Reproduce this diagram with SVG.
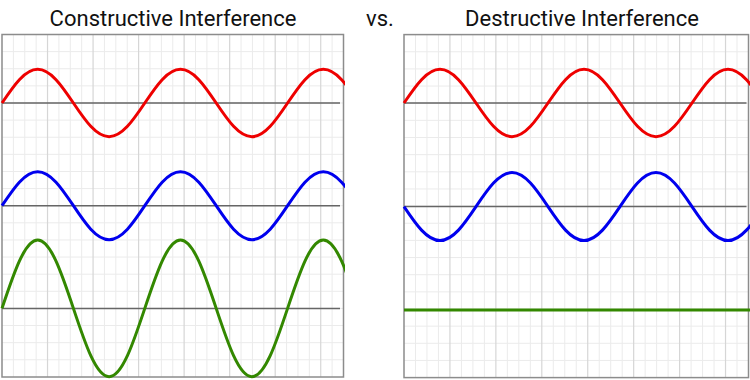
<svg xmlns="http://www.w3.org/2000/svg" width="750" height="380" viewBox="0 0 750 380">
<style>
.title{font-family:Roboto,"Liberation Sans",sans-serif;font-size:22px;fill:#111;text-anchor:middle}
.minor{stroke:#ebebeb;stroke-width:1;fill:none}
.major{stroke:#d6d6d6;stroke-width:1.2;fill:none}
.frame{stroke:#8c8c8c;stroke-width:1.5;fill:none}
.axis{stroke:#666;stroke-width:1.5;fill:none}
.wave{fill:none;stroke-width:3;stroke-linejoin:round}
.red{stroke:#ee0000}
.blue{stroke:#0000ee}
.green{stroke:#338800}
</style>
<defs>
<clipPath id="clipL"><rect x="0" y="30" width="345" height="350"/></clipPath>
<clipPath id="clipR"><rect x="402" y="30" width="348" height="350"/></clipPath>
</defs>
<rect width="750" height="380" fill="#fff"/>
<g id="titles">
<text class="title" x="173" y="26">Constructive Interference</text>
<text class="title" x="380" y="26">vs.</text>
<text class="title" x="582" y="26">Destructive Interference</text>
</g>
<g id="panel-constructive">
<path class="minor" d="M13.38,34.5V377M24.77,34.5V377M36.15,34.5V377M58.92,34.5V377M70.30,34.5V377M81.68,34.5V377M104.45,34.5V377M115.83,34.5V377M127.22,34.5V377M149.98,34.5V377M161.37,34.5V377M172.75,34.5V377M195.52,34.5V377M206.90,34.5V377M218.28,34.5V377M241.05,34.5V377M252.43,34.5V377M263.82,34.5V377M286.58,34.5V377M297.97,34.5V377M309.35,34.5V377M332.12,34.5V377
M2,51.62H343.5M2,68.74H343.5M2,85.86H343.5M2,103H343.5M2,120.1H343.5M2,137.22H343.5M2,154.34H343.5M2,171.46H343.5M2,188.58H343.5M2,205.7H343.5M2,222.82H343.5M2,239.94H343.5M2,257.06H343.5M2,274.18H343.5M2,291.3H343.5M2,308.4H343.5M2,325.54H343.5M2,342.66H343.5M2,359.78H343.5"/>
<path class="major" d="M47.53,34.5V377M93.07,34.5V377M138.60,34.5V377M184.13,34.5V377M229.67,34.5V377M275.20,34.5V377M320.73,34.5V377"/>
<rect class="frame" x="2" y="34.5" width="341.5" height="342.5"/>
<path class="axis" d="M2,103H340M2,205.7H340M2,308.4H340"/>
<g clip-path="url(#clipL)">
<path class="wave red" d="M2,103 c11.64,-17.26 22.78,-33.7 35.7,-33.7 s24.06,16.44 35.7,33.7 s22.78,33.7 35.7,33.7 s24.06,-16.44 35.7,-33.7 s22.78,-33.7 35.7,-33.7 s24.06,16.44 35.7,33.7 s22.78,33.7 35.7,33.7 s24.06,-16.44 35.7,-33.7 s22.78,-33.7 35.7,-33.7 s24.06,16.44 35.7,33.7"/>
<path class="wave blue" d="M2,205.7 c11.64,-17.42 22.78,-34 35.7,-34 s24.06,16.58 35.7,34 s22.78,34 35.7,34 s24.06,-16.58 35.7,-34 s22.78,-34 35.7,-34 s24.06,16.58 35.7,34 s22.78,34 35.7,34 s24.06,-16.58 35.7,-34 s22.78,-34 35.7,-34 s24.06,16.58 35.7,34"/>
<path class="wave green" d="M2,308.4 c11.64,-34.99 22.78,-68.3 35.7,-68.3 s24.06,33.31 35.7,68.3 s22.78,68.3 35.7,68.3 s24.06,-33.31 35.7,-68.3 s22.78,-68.3 35.7,-68.3 s24.06,33.31 35.7,68.3 s22.78,68.3 35.7,68.3 s24.06,-33.31 35.7,-68.3 s22.78,-68.3 35.7,-68.3 s24.06,33.31 35.7,68.3"/>
</g>
</g>
<g id="panel-destructive">
<path class="minor" d="M415.48,34.6V377.6M426.97,34.6V377.6M438.45,34.6V377.6M461.42,34.6V377.6M472.90,34.6V377.6M484.38,34.6V377.6M507.35,34.6V377.6M518.83,34.6V377.6M530.32,34.6V377.6M553.28,34.6V377.6M564.77,34.6V377.6M576.25,34.6V377.6M599.22,34.6V377.6M610.70,34.6V377.6M622.18,34.6V377.6M645.15,34.6V377.6M656.63,34.6V377.6M668.12,34.6V377.6M691.08,34.6V377.6M702.57,34.6V377.6M714.05,34.6V377.6M737.02,34.6V377.6
M404,51.75H748.5M404,68.9H748.5M404,86.05H748.5M404,103.2H748.5M404,120.35H748.5M404,137.5H748.5M404,154.65H748.5M404,171.8H748.5M404,188.95H748.5M404,206.1H748.5M404,223.25H748.5M404,240.4H748.5M404,257.55H748.5M404,274.7H748.5M404,291.85H748.5M404,309H748.5M404,326.15H748.5M404,343.3H748.5M404,360.45H748.5"/>
<path class="major" d="M449.93,34.6V377.6M495.87,34.6V377.6M541.80,34.6V377.6M587.73,34.6V377.6M633.67,34.6V377.6M679.60,34.6V377.6M725.53,34.6V377.6"/>
<rect class="frame" x="404" y="34.6" width="344.5" height="343"/>
<path class="axis" d="M404,103H746.5M404,206.6H746.5"/>
<g clip-path="url(#clipR)">
<path class="wave red" d="M404,103 c11.74,-17.26 22.97,-33.7 36,-33.7 s24.26,16.44 36,33.7 s22.97,33.7 36,33.7 s24.26,-16.44 36,-33.7 s22.97,-33.7 36,-33.7 s24.26,16.44 36,33.7 s22.97,33.7 36,33.7 s24.26,-16.44 36,-33.7 s22.97,-33.7 36,-33.7 s24.26,16.44 36,33.7"/>
<path class="wave blue" d="M404,206.6 c11.74,17.42 22.97,34 36,34 s24.26,-16.58 36,-34 s22.97,-34 36,-34 s24.26,16.58 36,34 s22.97,34 36,34 s24.26,-16.58 36,-34 s22.97,-34 36,-34 s24.26,16.58 36,34 s22.97,34 36,34 s24.26,-16.58 36,-34"/>
<path class="wave green" d="M404,310H750"/>
</g>
</g>
</svg>
